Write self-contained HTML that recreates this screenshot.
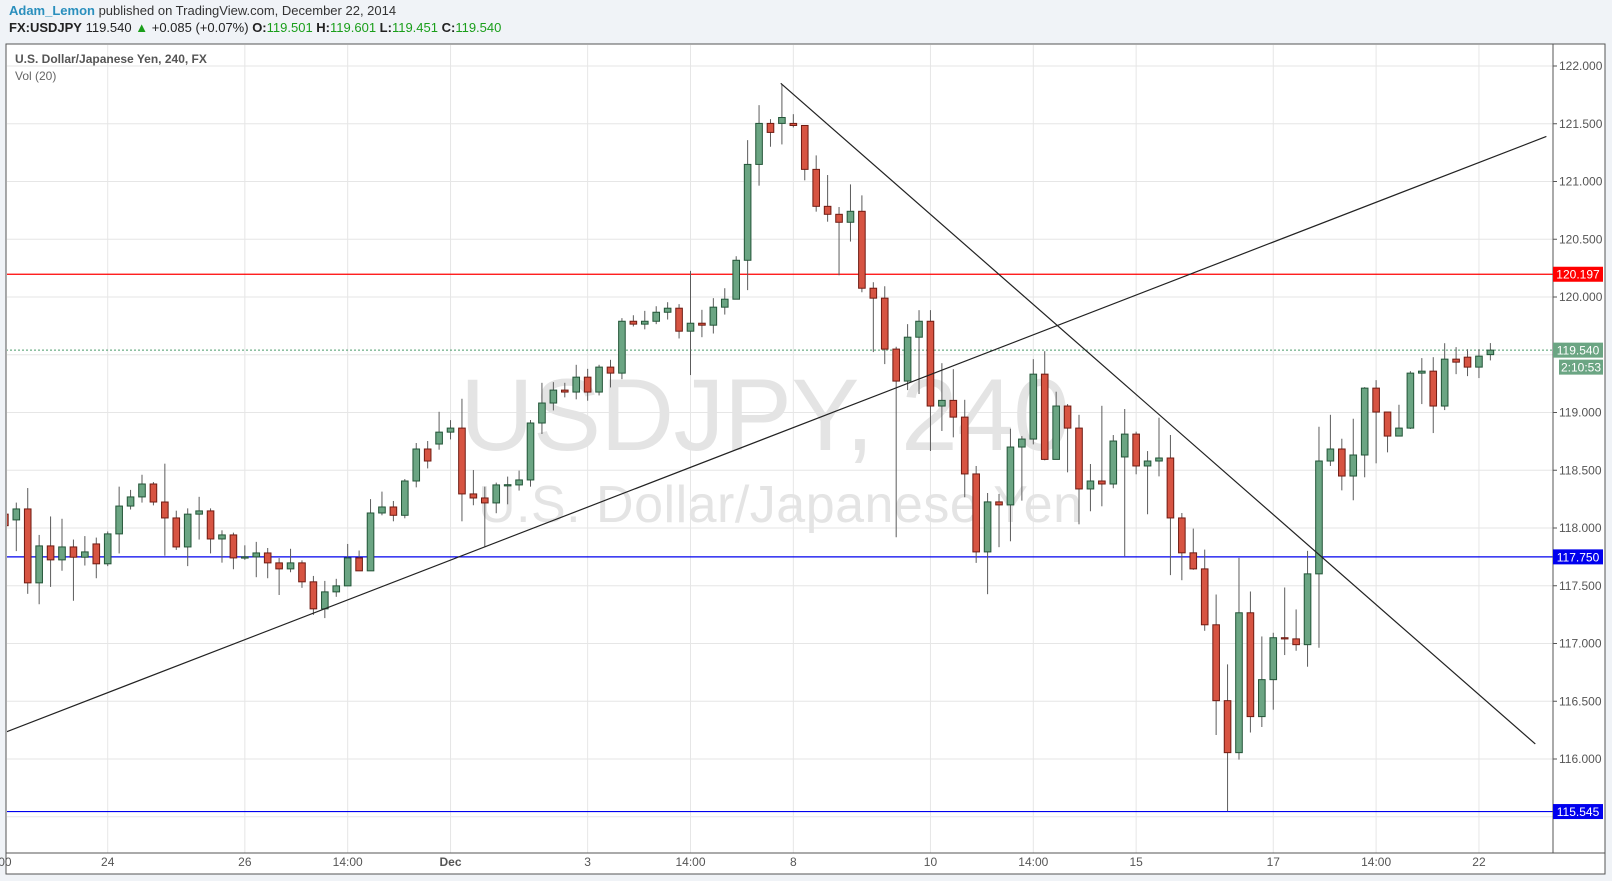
<!DOCTYPE html>
<html><head><meta charset="utf-8"><style>
body{margin:0;background:#f0f3f7;font-family:"Liberation Sans",sans-serif;}
#hdr1{position:absolute;left:9px;top:3px;font-size:13px;color:#333;}
#hdr2{position:absolute;left:9px;top:20px;font-size:13px;color:#222;}
.g{color:#1a9e1a}
</style></head><body>
<div id="hdr1"><span style="color:#2a8fbd;font-weight:bold">Adam_Lemon</span> published on TradingView.com, December 22, 2014</div>
<div id="hdr2"><b>FX:USDJPY</b> 119.540 <span class="g">&#9650;</span> +0.085 (+0.07%) <b>O:</b><span class="g">119.501</span> <b>H:</b><span class="g">119.601</span> <b>L:</b><span class="g">119.451</span> <b>C:</b><span class="g">119.540</span></div>
<svg id="chart" width="1612" height="881" style="position:absolute;left:0;top:0" xmlns="http://www.w3.org/2000/svg">
<rect x="6" y="44" width="1599" height="830" fill="#fff" stroke="#555" stroke-width="1"/>
<defs><clipPath id="pc"><rect x="7" y="45" width="1546" height="808"/></clipPath></defs>
<g id="grid" clip-path="url(#pc)"></g>
<g id="wm" clip-path="url(#pc)">
<text x="765" y="450" font-size="102" fill="#e4e4e4" text-anchor="middle" textLength="610">USDJPY, 240</text>
<text x="780" y="522" font-size="52" fill="#e4e4e4" text-anchor="middle" textLength="604">U.S. Dollar/Japanese Yen</text>
</g>
<g id="hlines" clip-path="url(#pc)"></g>
<g id="candles" clip-path="url(#pc)"></g>
<g id="trend" clip-path="url(#pc)"></g>
<line x1="1553" y1="44" x2="1553" y2="853" stroke="#555"/>
<line x1="6" y1="853" x2="1605" y2="853" stroke="#555"/>
<g id="axes"></g>
<text x="15" y="63" font-size="12" font-weight="bold" fill="#555">U.S. Dollar/Japanese Yen, 240, FX</text>
<text x="15" y="80" font-size="12" fill="#666">Vol (20)</text>
</svg>
<script>
const opens=[118.12,118.07,118.165,117.525,117.845,117.724,117.836,117.747,117.862,117.69,117.949,118.19,118.269,118.381,118.225,118.087,117.836,118.12,118.148,117.905,117.94,117.741,117.75,117.784,117.698,117.646,117.698,117.534,117.30,117.447,117.499,117.741,117.629,118.13,118.182,118.11,118.407,118.684,118.727,118.83,118.865,118.295,118.26,118.217,118.37,118.373,118.416,118.909,119.082,119.194,119.177,119.306,119.177,119.393,119.341,119.79,119.765,119.79,119.868,119.903,119.704,119.773,119.756,119.912,119.981,120.318,121.148,121.503,121.503,121.503,121.485,121.105,120.785,120.716,120.647,120.742,120.076,119.99,119.549,119.272,119.652,119.79,119.056,119.105,118.96,118.468,117.793,118.226,118.2,118.701,118.77,119.332,118.594,119.056,118.865,118.338,118.407,118.381,118.615,118.813,118.537,118.58,118.606,118.087,117.785,117.646,117.162,116.505,116.055,117.266,116.367,116.687,117.05,117.04,116.99,117.603,118.58,118.684,118.45,118.632,119.211,119.004,118.796,118.865,119.341,119.358,119.056,119.462,119.479,119.393,119.501];
const closes=[118.02,118.165,117.525,117.845,117.724,117.836,117.747,117.793,117.69,117.949,118.19,118.269,118.381,118.225,118.087,117.836,118.12,118.148,117.905,117.94,117.741,117.75,117.784,117.698,117.646,117.698,117.534,117.30,117.447,117.499,117.741,117.629,118.13,118.182,118.11,118.407,118.684,118.58,118.83,118.865,118.295,118.26,118.217,118.373,118.375,118.416,118.909,119.082,119.194,119.177,119.306,119.177,119.393,119.341,119.79,119.765,119.79,119.868,119.903,119.704,119.773,119.756,119.912,119.981,120.318,121.148,121.503,121.425,121.554,121.485,121.105,120.785,120.716,120.647,120.742,120.076,119.99,119.549,119.272,119.652,119.79,119.056,119.105,118.96,118.468,117.793,118.226,118.2,118.701,118.77,119.332,118.594,119.056,118.865,118.338,118.407,118.381,118.753,118.813,118.537,118.58,118.606,118.087,117.785,117.646,117.162,116.505,116.055,117.266,116.367,116.687,117.05,117.04,116.99,117.603,118.58,118.684,118.45,118.632,119.211,119.004,118.796,118.865,119.341,119.358,119.056,119.462,119.436,119.393,119.488,119.54];
const highs=[118.15,118.22,118.346,117.94,118.10,118.08,117.90,117.93,117.917,117.97,118.358,118.33,118.461,118.398,118.557,118.15,118.17,118.27,118.17,117.98,117.96,117.85,117.88,117.827,117.74,117.82,117.72,117.585,117.542,117.56,117.862,117.805,118.25,118.315,118.234,118.424,118.736,118.753,119.006,118.934,119.119,118.502,118.358,118.393,118.445,118.497,118.935,119.257,119.263,119.257,119.413,119.378,119.413,119.456,119.817,119.842,119.88,119.92,119.955,119.938,120.226,119.889,119.99,120.076,120.353,121.358,121.661,121.54,121.84,121.583,121.485,121.226,121.056,120.779,120.975,120.88,120.128,120.093,119.569,119.765,119.886,119.886,119.427,119.375,119.11,118.537,118.303,118.295,118.86,118.796,119.462,119.531,119.18,119.073,118.98,118.554,119.058,118.805,119.03,118.834,118.666,118.955,118.805,118.13,117.995,117.813,117.424,116.819,117.741,117.45,117.061,117.093,117.485,117.295,117.802,118.877,118.98,118.773,118.946,119.22,119.28,119.004,119.067,119.358,119.471,119.479,119.6,119.566,119.548,119.548,119.601];
const lows=[117.98,117.80,117.43,117.34,117.49,117.63,117.37,117.675,117.565,117.67,117.78,118.16,118.22,118.196,117.76,117.81,117.67,117.90,117.78,117.70,117.643,117.724,117.574,117.565,117.42,117.617,117.482,117.248,117.22,117.404,117.499,117.629,117.629,118.11,118.058,118.084,118.352,118.516,118.678,118.767,118.058,118.197,117.834,118.128,118.205,118.324,118.358,118.814,119.018,119.131,119.114,119.102,119.148,119.217,119.289,119.745,119.72,119.765,119.805,119.641,119.324,119.652,119.684,119.848,119.981,120.059,120.964,121.301,121.321,121.468,121.01,120.739,120.652,120.188,120.48,120.041,119.523,119.419,117.92,119.194,119.16,118.667,118.84,118.785,118.266,117.698,117.427,117.834,117.885,118.237,118.724,118.586,118.594,118.482,118.032,118.145,118.188,118.344,117.756,118.465,118.119,118.447,117.592,117.548,117.638,117.11,116.208,115.548,115.995,116.229,116.277,116.427,116.9,116.937,116.799,116.963,118.537,118.326,118.24,118.439,118.56,118.655,118.796,118.857,119.073,118.822,119.021,119.332,119.315,119.298,119.451];
const timeLabels=["00","24","26","14:00","Dec","3","14:00","8","10","14:00","15","17","14:00","22"];
const timeIdx=[0,9,21,30,39,51,60,69,81,90,99,111,120,129];
const priceTicks=[115.5,116,116.5,117,117.5,118,118.5,119,119.5,120,120.5,121,121.5,122];
const levels=[120.197,117.75,115.545];
const levelColors=["#ff0000","#0000ee","#0000ee"];
const lastPrice=119.54;
const trendRise=[[0.1,116.234],[134.9,121.39]];
const trendFall=[[67.9,121.85],[133.93,116.13]];

const NS="http://www.w3.org/2000/svg";
const X=i=>4.87+i*11.427;
const Y=p=>66+(122-p)*115.5;
function mk(tag,attrs,parent){const e=document.createElementNS(NS,tag);for(const k in attrs)e.setAttribute(k,attrs[k]);parent.appendChild(e);return e;}
const grid=document.getElementById('grid'),axes=document.getElementById('axes'),hl=document.getElementById('hlines'),cg=document.getElementById('candles'),tg=document.getElementById('trend');
const boxYs=levels.map(Y).concat([Y(lastPrice),Y(lastPrice)+17]);
priceTicks.forEach(p=>{
  const l=mk('line',{x1:6,x2:1553,y1:Y(p),y2:Y(p),stroke:'#e6e6e6'},grid);
  
  
  const tk=mk('line',{x1:1553,x2:1557,y1:Y(p),y2:Y(p),stroke:'#555'},axes);
  
  
  if(boxYs.some(b=>Math.abs(b-Y(p))<10))return;
  const t=mk('text',{x:1559,y:Y(p)+4,'font-size':12,fill:'#555'},axes);
  t.textContent=p.toFixed(3);
  
  
});
timeIdx.forEach((ix,k)=>{
  const x=X(ix);
  const l=mk('line',{x1:x,x2:x,y1:44,y2:853,stroke:'#e6e6e6'},grid);
  
  
  const t=mk('text',{x:x,y:866,'font-size':12,fill:'#555','text-anchor':'middle'},axes);
  if(timeLabels[k]==='Dec')t.setAttribute('font-weight','bold');
  t.textContent=timeLabels[k];
  
  
});
const ld=mk('line',{x1:6,x2:1553,y1:Y(lastPrice),y2:Y(lastPrice),stroke:'#4a9a6a','stroke-dasharray':'2,2'},hl);


levels.forEach((p,k)=>{
  const l=mk('line',{x1:6,x2:1553,y1:Y(p),y2:Y(p),stroke:levelColors[k],'stroke-width':1.2},hl);
  
  
});
const n=Math.min(opens.length,closes.length,highs.length,lows.length);
for(let i=0;i<n;i++){
  const up=closes[i]>=opens[i];const x=X(i);
  const w=mk('line',{x1:x,x2:x,y1:Y(highs[i]),y2:Y(lows[i]),stroke:'#5c5c5c'},cg);
  
  
  const top=Y(Math.max(opens[i],closes[i])),bot=Y(Math.min(opens[i],closes[i]));
  const b=mk('rect',{x:x-3.3,y:top,width:6.6,height:Math.max(bot-top,1.2),fill:up?'#6ba583':'#d75442',stroke:up?'#225437':'#6f1b12','stroke-width':1},cg);
  
  
}
[[trendRise,'rising-trendline'],[trendFall,'falling-trendline']].forEach(([tr,nm])=>{
  const l=mk('line',{x1:X(tr[0][0]),y1:Y(tr[0][1]),x2:X(tr[1][0]),y2:Y(tr[1][1]),stroke:'#222','stroke-width':1.2},tg);
  
  
});
function box(y,txt,col,x0,nm){
  const r=mk('rect',{x:x0,y:y-7.5,width:1603-x0,height:15,fill:col},axes);
  
  
  const t=mk('text',{x:x0+(1603-x0)/2,y:y+4.5,'font-size':12,fill:'#fff','text-anchor':'middle'},axes);
  t.textContent=txt;
  
  
}
levels.forEach((p,k)=>box(Y(p),p.toFixed(3),levelColors[k],1553,'level-price-label'));
box(Y(lastPrice),lastPrice.toFixed(3),'#6ba583',1553,'last-price-label');
box(Y(lastPrice)+17,'2:10:53','#6ba583',1559,'bar-countdown-label');
</script>
</body></html>
